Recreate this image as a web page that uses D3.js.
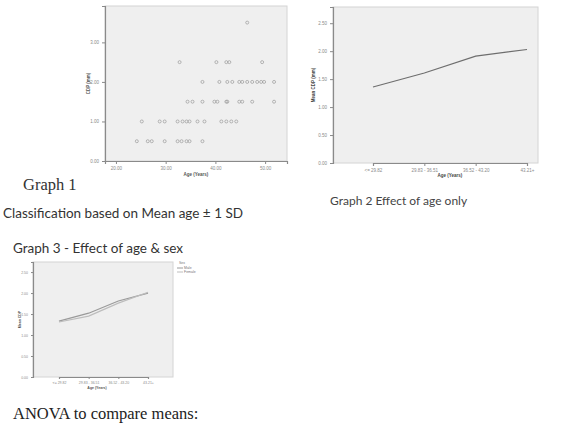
<!DOCTYPE html>
<html>
<head>
<meta charset="utf-8">
<script src="https://cdn.jsdelivr.net/npm/d3@7"></script>
<style>
  body { margin: 0; background: #fff; }
  svg { display: block; }
</style>
</head>
<body>
<div id="chart"></div>
<script>
// Graph 1 - scatter of CDP vs age
const scatterAges = [
  24.2, 26.4, 27.2, 29.8, 32.4, 33.2, 34.2, 34.8, 37.4,
  25.2, 28.8, 29.8, 32.4, 33.4, 34.2, 34.8, 36.4, 37.8, 41.2, 42.2, 43.2, 44.2,
  34.4, 35.4, 37.4, 39.8, 40.4, 42.2, 42.4, 44.8, 45.4, 47.4, 51.8,
  37.4, 40.8, 42.4, 43.4, 44.8, 45.4, 46.4, 47.4, 48.4, 49.2, 49.8, 51.8,
  32.8, 40.2, 42.2, 42.8, 49.4,
  46.4
];
const scatterCdp = [
  0.5, 0.5, 0.5, 0.5, 0.5, 0.5, 0.5, 0.5, 0.5,
  1, 1, 1, 1, 1, 1, 1, 1, 1, 1, 1, 1, 1,
  1.5, 1.5, 1.5, 1.5, 1.5, 1.5, 1.5, 1.5, 1.5, 1.5, 1.5,
  2, 2, 2, 2, 2, 2, 2, 2, 2, 2, 2, 2,
  2.5, 2.5, 2.5, 2.5, 2.5,
  3.5
];
const scatterXTicks = [20, 30, 40, 50];
const scatterYTicks = [0, 1, 2, 3];

// Graph 2 - mean CDP by age group
const ageGroups = ["<= 29.82", "29.83 - 36.51", "36.52 - 43.20", "43.21+"];
const meanCdp = [1.36, 1.61, 1.91, 2.03];
const meanYTicks = [0, 0.5, 1, 1.5, 2, 2.5];

// Graph 3 - mean CDP by age group and sex
const sexGroups = ["Male", "Female"];
const meanCdpMale = [1.33, 1.52, 1.81, 2.0];
const meanCdpFemale = [1.31, 1.45, 1.76, 2.02];

const svg = d3.select("#chart").append("svg")
  .attr("width", 577)
  .attr("height", 423);

const tickFont = "Liberation Sans, Arial, sans-serif";
const captionFont = "Lato, Open Sans, sans-serif";
const serifFont = "Liberation Serif, Times New Roman, serif";

function frame(box) {
  svg.append("rect")
    .attr("x", box.left).attr("y", box.top)
    .attr("width", box.right - box.left).attr("height", box.bottom - box.top)
    .attr("fill", "#efefef")
    .attr("stroke", "#d4d4d4")
    .attr("stroke-width", 1);
}

function styleAxis(g) {
  g.select(".domain").attr("stroke", "#8a8a8a").attr("stroke-width", 1.2);
  g.selectAll(".tick line").attr("stroke", "#8a8a8a");
  g.selectAll(".tick text")
    .attr("fill", "#8a8a8a")
    .attr("font-family", tickFont)
    .attr("font-size", 4.5);
}

// ---------- Graph 1 ----------
const g1 = { left: 105, right: 287, top: 6, bottom: 161 };
frame(g1);

const x1 = d3.scaleLinear().domain([17.8, 54.4]).range([g1.left, g1.right]);
const y1 = d3.scaleLinear().domain([0, 3.92]).range([g1.bottom, g1.top]);

svg.append("g")
  .attr("transform", `translate(0,${g1.bottom})`)
  .call(d3.axisBottom(x1).tickValues(scatterXTicks).tickSize(3).tickFormat(d3.format(".2f")))
  .call(styleAxis);

svg.append("g")
  .attr("transform", `translate(${g1.left},0)`)
  .call(d3.axisLeft(y1).tickValues(scatterYTicks).tickSize(3).tickFormat(d3.format(".2f")))
  .call(styleAxis);

svg.append("g").selectAll("circle")
  .data(scatterAges.map((age, i) => ({ age, cdp: scatterCdp[i] })))
  .enter().append("circle")
  .attr("cx", d => x1(d.age))
  .attr("cy", d => y1(d.cdp))
  .attr("r", 1.5)
  .attr("fill", "none")
  .attr("stroke", "#9a9a9a")
  .attr("stroke-width", 0.7);

svg.append("text")
  .attr("x", (g1.left + g1.right) / 2).attr("y", 176)
  .attr("text-anchor", "middle")
  .attr("font-family", tickFont).attr("font-size", 4.5).attr("font-weight", "bold")
  .attr("fill", "#555")
  .text("Age (Years)");

svg.append("text")
  .attr("transform", `translate(90,${(g1.top + g1.bottom) / 2}) rotate(-90)`)
  .attr("text-anchor", "middle")
  .attr("font-family", tickFont).attr("font-size", 4.5).attr("font-weight", "bold")
  .attr("fill", "#555")
  .text("CDP (mm)");

// ---------- Graph 2 ----------
const g2 = { left: 333, right: 538, top: 7, bottom: 163 };
frame(g2);

const x2 = d3.scalePoint().domain(ageGroups).range([g2.left + 40, g2.right - 11]);
const y2 = d3.scaleLinear().domain([0, 2.79]).range([g2.bottom, g2.top]);

svg.append("g")
  .attr("transform", `translate(0,${g2.bottom})`)
  .call(d3.axisBottom(x2).tickSize(3))
  .call(styleAxis);

svg.append("g")
  .attr("transform", `translate(${g2.left},0)`)
  .call(d3.axisLeft(y2).tickValues(meanYTicks).tickSize(3).tickFormat(d3.format(".2f")))
  .call(styleAxis);

svg.append("path")
  .datum(meanCdp)
  .attr("fill", "none")
  .attr("stroke", "#6e6e6e")
  .attr("stroke-width", 1.2)
  .attr("d", d3.line().x((d, i) => x2(ageGroups[i])).y(d => y2(d)));

svg.append("text")
  .attr("x", 450).attr("y", 177)
  .attr("text-anchor", "middle")
  .attr("font-family", tickFont).attr("font-size", 4.5).attr("font-weight", "bold")
  .attr("fill", "#444")
  .text("Age (Years)");

svg.append("text")
  .attr("transform", `translate(315,${(g2.top + g2.bottom) / 2}) rotate(-90)`)
  .attr("text-anchor", "middle")
  .attr("font-family", tickFont).attr("font-size", 4.5).attr("font-weight", "bold")
  .attr("fill", "#444")
  .text("Mean CDP (mm)");

// ---------- Graph 3 ----------
const g3 = { left: 33, right: 173, top: 262, bottom: 377 };
frame(g3);

const x3 = d3.scalePoint().domain(ageGroups).range([g3.left + 26, g3.right - 25]);
const y3 = d3.scaleLinear().domain([0, 2.74]).range([g3.bottom, g3.top]);

svg.append("g")
  .attr("transform", `translate(0,${g3.bottom})`)
  .call(d3.axisBottom(x3).tickSize(2))
  .call(styleAxis)
  .call(g => g.selectAll(".tick text").attr("font-size", 3.5));

svg.append("g")
  .attr("transform", `translate(${g3.left},0)`)
  .call(d3.axisLeft(y3).tickValues(meanYTicks).tickSize(2).tickFormat(d3.format(".2f")))
  .call(styleAxis)
  .call(g => g.selectAll(".tick text").attr("font-size", 3.5));

const sexSeries = [meanCdpMale, meanCdpFemale];
const sexColors = ["#9a9a9a", "#bdbdbd"];
svg.append("g").selectAll("path")
  .data(sexSeries)
  .enter().append("path")
  .attr("fill", "none")
  .attr("stroke", (d, i) => sexColors[i])
  .attr("stroke-width", 1.2)
  .attr("d", d3.line().x((d, i) => x3(ageGroups[i])).y(d => y3(d)));

svg.append("text")
  .attr("x", 97).attr("y", 389)
  .attr("text-anchor", "middle")
  .attr("font-family", tickFont).attr("font-size", 3.5).attr("font-weight", "bold")
  .attr("fill", "#555")
  .text("Age (Years)");

svg.append("text")
  .attr("transform", `translate(21,${(g3.top + g3.bottom) / 2}) rotate(-90)`)
  .attr("text-anchor", "middle")
  .attr("font-family", tickFont).attr("font-size", 3.5).attr("font-weight", "bold")
  .attr("fill", "#555")
  .text("Mean CDP");

// legend
const legend = svg.append("g").attr("transform", "translate(177,264)");
legend.append("text")
  .attr("x", 2).attr("y", 0)
  .attr("font-family", tickFont).attr("font-size", 3.5).attr("fill", "#777")
  .text("Sex");
sexGroups.forEach((s, i) => {
  legend.append("line")
    .attr("x1", 0).attr("x2", 6)
    .attr("y1", 4 + i * 4).attr("y2", 4 + i * 4)
    .attr("stroke", sexColors[i]).attr("stroke-width", 1);
  legend.append("text")
    .attr("x", 7).attr("y", 5.2 + i * 4)
    .attr("font-family", tickFont).attr("font-size", 3.5).attr("fill", "#777")
    .text(s);
});

// ---------- captions ----------
svg.append("text")
  .attr("x", 23).attr("y", 190)
  .attr("font-family", serifFont)
  .attr("font-size", 16.5).attr("fill", "#333")
  .text("Graph 1");

svg.append("text")
  .attr("x", 330).attr("y", 205)
  .attr("font-family", captionFont)
  .attr("font-size", 12).attr("fill", "#444")
  .text("Graph 2 Effect of age only");

svg.append("text")
  .attr("x", 3).attr("y", 218)
  .attr("font-family", captionFont)
  .attr("font-size", 13.5).attr("fill", "#333")
  .text("Classification based on Mean age \u00b1 1 SD");

svg.append("text")
  .attr("x", 13).attr("y", 253)
  .attr("font-family", captionFont)
  .attr("font-size", 13.5).attr("fill", "#333")
  .text("Graph 3 - Effect of age & sex");

svg.append("text")
  .attr("x", 13).attr("y", 419)
  .attr("font-family", serifFont)
  .attr("font-size", 16.5).attr("fill", "#222")
  .text("ANOVA to compare means:");
</script>
</body>
</html>
